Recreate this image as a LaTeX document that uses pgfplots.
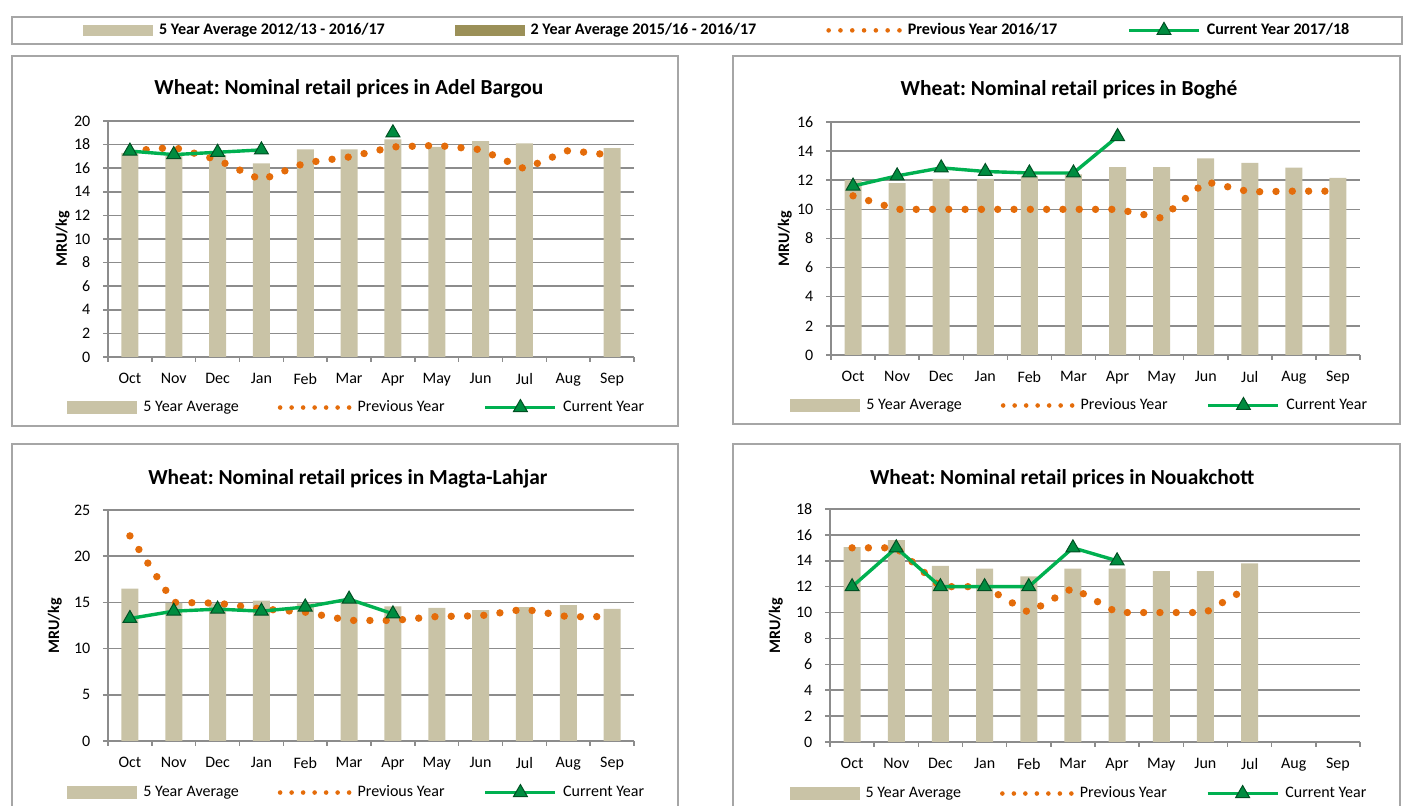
\documentclass[border=0pt]{standalone}
\usepackage{pgfplots}
\pgfplotsset{compat=1.18}
\usepackage{fontspec}
\setmainfont{Carlito}
\frenchspacing
\definecolor{barcol}{RGB}{201,195,166}
\definecolor{olivecol}{RGB}{155,144,88}
\definecolor{prevcol}{RGB}{228,108,10}
\definecolor{curcol}{RGB}{0,176,80}
\definecolor{mkfill}{RGB}{0,140,64}
\definecolor{mkdraw}{RGB}{0,80,35}
\definecolor{gridcol}{RGB}{140,140,140}
\definecolor{boxcol}{RGB}{166,166,166}

\pgfplotsset{
  every axis title shift=-1pt,
  panel/.style={
    scale only axis,
    xmin=-0.5, xmax=11.5, ymin=0,
    axis lines*=left, axis line style={draw=gridcol, line width=0.75pt, -},
    xtick={-0.5,0.5,...,11.5},
    xticklabels={Oct,Nov,Dec,Jan,Feb,Mar,Apr,May,Jun,Jul,Aug,Sep},
    x tick label as interval,
    tick align=outside,
    major tick length=2.5pt,
    tick style={draw=gridcol, line width=0.75pt},
    ymajorgrids, grid style={draw=gridcol, line width=0.75pt},
    tick label style={font=\fontsize{8}{9.6}\selectfont, text=black},
    /pgf/number format/assume math mode=true,
    xticklabel style={yshift=-2pt},
    yticklabel style={xshift=-2.8pt},
    ylabel={MRU/kg},
    title style={font=\bfseries\fontsize{10.7}{12.8}\selectfont, anchor=center},
    clip=false,
    unbounded coords=jump,
    legend columns=3,
    legend cell align=left,
    legend style={draw=none, fill=none, inner sep=0pt, anchor=west,
       font=\fontsize{8}{9.6}\selectfont,
       nodes={inner sep=0pt},
       /tikz/every odd column/.style={column sep=3pt},
       /tikz/every even column/.style={column sep=19.5pt}},
  },
  ylab/.style={ylabel style={at={(axis description cs:#1,0.5)}, anchor=center, font=\bfseries\fontsize{8}{9.6}\selectfont}},
  barplot/.style={ybar, bar width=8.5pt, fill=barcol, draw=none,
     legend image code/.code={\fill[barcol] (0pt,-3.25pt) rectangle (35pt,3.25pt);}},
  prevplot/.style={prevcol, line width=3.7pt, line cap=round, dash pattern=on 0pt off 8.15pt, no markers,
     legend image code/.code={\draw[prevcol, line width=2.3pt, line cap=round, dash pattern=on 0pt off 5.75pt] (1pt,0pt) -- (35.6pt,0pt);}},
  curplot/.style={curcol, line width=1.7pt, mark=triangle*, mark size=4pt,
     mark options={fill=mkfill, draw=mkdraw, line width=0.5pt, solid},
     legend image code/.code={\draw[curcol, line width=1.8pt, mark=triangle*, mark size=4pt, mark options={fill=mkfill, draw=mkdraw, line width=0.5pt}, mark repeat=2, mark phase=2] plot coordinates {(0pt,0pt) (17.5pt,0pt) (35pt,0pt)};}},
}

\begin{document}
\begin{tikzpicture}
\useasboundingbox (0pt,0pt) rectangle (704pt,403pt);

% top legend
\begin{axis}[at={(0pt,0pt)}, anchor=south west, scale only axis, width=704pt, height=403pt,
  xmin=0, xmax=1, ymin=0, ymax=1, hide axis,
  legend columns=4, legend cell align=left,
  legend style={at={(axis description cs:0.0589,0.9628)}, anchor=west, draw=none, fill=none, inner sep=0pt,
    font=\bfseries\fontsize{8.05}{9.7}\selectfont, nodes={inner sep=0pt},
    /tikz/every odd column/.style={column sep=3pt},
    /tikz/every even column/.style={column sep=35pt},
    /tikz/column 6/.style={column sep=32.5pt},
    /tikz/column 7/.style={column sep=2.5pt}}]
\addlegendimage{legend image code/.code={\fill[barcol] (0pt,-2.5pt) rectangle (34.5pt,2.5pt);}}
\addlegendentry{5 Year Average 2012/13 - 2016/17}
\addlegendimage{legend image code/.code={\fill[olivecol] (0pt,-2.5pt) rectangle (34.5pt,2.5pt);}}
\addlegendentry{2 Year Average 2015/16 - 2016/17}
\addlegendimage{legend image code/.code={\draw[prevcol, line width=2.3pt, line cap=round, dash pattern=on 0pt off 5.9pt] (1pt,0pt) -- (36.4pt,0pt);}}
\addlegendentry{Previous Year 2016/17}
\addlegendimage{legend image code/.code={\draw[curcol, line width=1.8pt, mark=triangle*, mark size=4pt, mark options={fill=mkfill, draw=mkdraw, line width=0.5pt}, mark repeat=2, mark phase=2] plot coordinates {(0pt,0pt) (17.5pt,0pt) (35pt,0pt)};}}
\addlegendentry{Current Year 2017/18}
\end{axis}

% Panel 1: Adel Bargou
\begin{axis}[panel, at={(54pt,224.5pt)}, anchor=south west, width=263pt, height=118pt,
  ymax=20, ytick={0,2,...,20}, ylab=-0.0865,
  title={Wheat: Nominal retail prices in Adel Bargou},
  title style={at={(axis description cs:0.458,1.144)}},
  legend style={at={(axis description cs:-0.078,-0.212)}}]
\addplot[barplot] coordinates {(0,17.3) (1,17.05) (2,17.1) (3,16.4) (4,17.6) (5,17.6) (6,18.45) (7,17.8) (8,18.3) (9,18.1) (11,17.7)};
\addlegendentry{5 Year Average}
\addplot[prevplot] coordinates {(0,17.45) (1,17.77) (2,16.7) (3,15.0) (4,16.45) (5,16.95) (6,17.8) (7,17.93) (8,17.57) (9,15.95) (10,17.5) (11,17.1)};
\addlegendentry{Previous Year}
\addplot[curplot] coordinates {(0,17.45) (1,17.15) (2,17.35) (3,17.55) (4,nan) (5,nan) (6,19.0)};
\addlegendentry{Current Year}
\end{axis}

% Panel 2: Boghe
\begin{axis}[panel, at={(415.5pt,225.5pt)}, anchor=south west, width=264.5pt, height=116.5pt,
  ymax=16, ytick={0,2,...,16}, ylab=-0.087,
  title={Wheat: Nominal retail prices in Boghé},
  title style={at={(axis description cs:0.45,1.146)}},
  legend style={at={(axis description cs:-0.0775,-0.2146)}}]
\addplot[barplot] coordinates {(0,12.0) (1,11.8) (2,12.1) (3,12.1) (4,12.3) (5,12.4) (6,12.9) (7,12.9) (8,13.5) (9,13.2) (10,12.87) (11,12.16)};
\addlegendentry{5 Year Average}
\addplot[prevplot] coordinates {(0,10.93) (1,10.0) (2,10.0) (3,10.0) (4,10.0) (5,10.0) (6,10.0) (7,9.4) (8,11.9) (9,11.2) (10,11.25) (11,11.25)};
\addlegendentry{Previous Year}
\addplot[curplot] coordinates {(0,11.6) (1,12.3) (2,12.85) (3,12.6) (4,12.5) (5,12.5) (6,15.0)};
\addlegendentry{Current Year}
\end{axis}

% Panel 3: Magta-Lahjar
\begin{axis}[panel, at={(54pt,32.5pt)}, anchor=south west, width=263pt, height=115.5pt,
  ymax=25, ytick={0,5,...,25}, ylab=-0.101,
  title={Wheat: Nominal retail prices in Magta-Lahjar},
  title style={at={(axis description cs:0.456,1.143)}},
  legend style={at={(axis description cs:-0.078,-0.221)}}]
\addplot[barplot] coordinates {(0,16.5) (1,14.95) (2,14.9) (3,15.2) (4,14.9) (5,15.05) (6,14.56) (7,14.4) (8,14.16) (9,14.5) (10,14.7) (11,14.3)};
\addlegendentry{5 Year Average}
\addplot[prevplot] coordinates {(0,22.2) (1,15.0) (2,14.92) (3,14.3) (4,13.94) (5,13.05) (6,13.04) (7,13.47) (8,13.55) (9,14.27) (10,13.44) (11,13.47)};
\addlegendentry{Previous Year}
\addplot[curplot] coordinates {(0,13.26) (1,14.05) (2,14.27) (3,14.05) (4,14.5) (5,15.35) (6,13.76)};
\addlegendentry{Current Year}
\end{axis}

% Panel 4: Nouakchott
\begin{axis}[panel, at={(415pt,32pt)}, anchor=south west, width=265pt, height=116.5pt,
  ymax=18, ytick={0,2,...,18}, ylab=-0.102,
  title={Wheat: Nominal retail prices in Nouakchott},
  title style={at={(axis description cs:0.438,1.137)}},
  legend style={at={(axis description cs:-0.077,-0.219)}}]
\addplot[barplot] coordinates {(0,15.05) (1,15.6) (2,13.6) (3,13.4) (4,12.8) (5,13.4) (6,13.4) (7,13.2) (8,13.2) (9,13.8)};
\addlegendentry{5 Year Average}
\addplot[prevplot] coordinates {(0,15.0) (1,15.0) (2,12.0) (3,12.0) (4,10.0) (5,11.9) (6,10.0) (7,10.0) (8,10.0) (9,12.0)};
\addlegendentry{Previous Year}
\addplot[curplot] coordinates {(0,12.0) (1,15.0) (2,12.0) (3,12.0) (4,12.0) (5,15.0) (6,14.0)};
\addlegendentry{Current Year}
\end{axis}

% frames
\draw[boxcol, line width=0.9pt] (6pt,381pt) rectangle (701pt,394.5pt);
\draw[boxcol, line width=0.9pt] (6pt,190pt) rectangle (339pt,375pt);
\draw[boxcol, line width=0.9pt] (366.5pt,191pt) rectangle (700pt,375pt);
\draw[boxcol, line width=0.9pt] (6pt,-5pt) -- (6pt,181pt) -- (339pt,181pt) -- (339pt,-5pt);
\draw[boxcol, line width=0.9pt] (366.5pt,-5pt) -- (366.5pt,181pt) -- (700pt,181pt) -- (700pt,-5pt);
\end{tikzpicture}
\end{document}
